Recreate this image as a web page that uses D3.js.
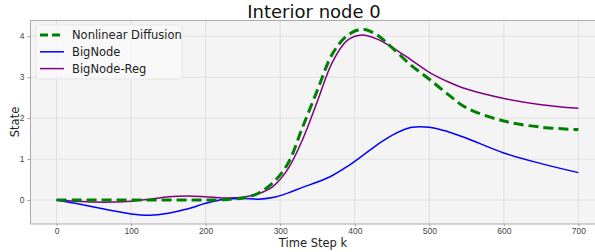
<!DOCTYPE html>
<meta charset="utf-8">
<style>
body { margin: 0; background: #fff; }
svg { font-family: "DejaVu Sans", sans-serif; display: block; }
.grid line { stroke: #dcdcdc; stroke-width: 0.8px; }
.axis text { fill: #444; font-size: 8.5px; }
.axis line { stroke: #999; }
.axis path { display: none; }
</style>
<svg width="595" height="252"></svg>
<script src="https://d3js.org/d3.v7.min.js"></script>
<script>

var steps = [0,25,50,75,100,125,150,175,200,225,250,270,290,310,330,350,370,390,410,430,450,475,500,525,550,600,650,700];

var diffusion = [0,0,0,0,0,0,0,0,0,0.01,0.05,0.16,0.42,0.88,1.78,2.69,3.57,4.02,4.17,4.03,3.72,3.3,2.95,2.58,2.25,1.93,1.78,1.72];
var bigNode = [0,-0.08,-0.17,-0.26,-0.34,-0.37,-0.32,-0.22,-0.08,0.02,0.04,0.02,0.06,0.17,0.31,0.44,0.6,0.82,1.08,1.35,1.58,1.77,1.78,1.67,1.51,1.15,0.89,0.67];
var bigNodeReg = [0,-0.03,-0.05,-0.05,-0.03,0.02,0.08,0.1,0.08,0.05,0.07,0.15,0.33,0.75,1.48,2.42,3.37,3.9,4.03,3.93,3.73,3.43,3.12,2.89,2.71,2.48,2.33,2.24];

var xTicks = [0,100,200,300,400,500,600,700];
var yTicks = [0,1,2,3,4];

var series = [
  {name: "Nonlinear Diffusion", values: diffusion, color: "green", width: 3, dash: "10,5"},
  {name: "BigNode", values: bigNode, color: "blue", width: 1.5, dash: null},
  {name: "BigNode-Reg", values: bigNodeReg, color: "purple", width: 1.5, dash: null}
];

var svg = d3.select("svg");
var pLeft = 30.5, pRight = 604.5, pTop = 20.5, pBottom = 224;

var x = d3.scaleLinear().domain([-35, 735]).range([pLeft, pRight]);
var y = d3.scaleLinear().domain([-0.585, 4.385]).range([pBottom, pTop]);

//plot background
svg.append("rect")
  .attr("x", pLeft).attr("y", pTop)
  .attr("width", pRight - pLeft).attr("height", pBottom - pTop)
  .attr("fill", "#f4f4f4");

//grid
var grid = svg.append("g").attr("class", "grid");
grid.selectAll(".gx").data(xTicks).enter().append("line")
  .attr("x1", d => x(d)).attr("x2", d => x(d))
  .attr("y1", pTop).attr("y2", pBottom);
grid.selectAll(".gy").data(yTicks).enter().append("line")
  .attr("x1", pLeft).attr("x2", pRight)
  .attr("y1", d => y(d)).attr("y2", d => y(d));

//axes
svg.append("g").attr("class", "axis")
  .attr("transform", "translate(0," + pBottom + ")")
  .call(d3.axisBottom(x).tickValues(xTicks).tickSize(2).tickPadding(1.5).tickFormat(d3.format("d")));
svg.append("g").attr("class", "axis")
  .attr("transform", "translate(" + pLeft + ",0)")
  .call(d3.axisLeft(y).tickValues(yTicks).tickSize(3).tickPadding(3).tickFormat(d3.format("d")));

//spines
svg.append("path")
  .attr("d", "M" + pLeft + "," + pTop + "V" + pBottom + "H" + pRight + "M" + pLeft + "," + pTop + "H" + pRight)
  .attr("stroke", "#aaa").attr("stroke-width", 1).attr("fill", "none");

//lines
var line = d3.line()
  .x((d, i) => x(steps[i]))
  .y(d => y(d))
  .curve(d3.curveCatmullRom.alpha(0.5));

svg.append("g").selectAll("path")
  .data(series.slice().reverse())
  .enter().append("path")
  .attr("d", d => line(d.values))
  .attr("fill", "none")
  .attr("stroke", d => d.color)
  .attr("stroke-width", d => d.width)
  .attr("stroke-dasharray", d => d.dash);

//legend
var legend = svg.append("g");
legend.append("rect")
  .attr("x", 36).attr("y", 25).attr("width", 146).attr("height", 54)
  .attr("rx", 3).attr("fill", "#f8f8f8").attr("fill-opacity", 0.85)
  .attr("stroke", "#e6e6e6");
var items = legend.selectAll(".item").data(series).enter().append("g")
  .attr("transform", (d, i) => "translate(0," + (35 + i * 16.8) + ")");
items.append("line")
  .attr("x1", 40).attr("x2", 64)
  .attr("stroke", d => d.color)
  .attr("stroke-width", d => d.width)
  .attr("stroke-dasharray", d => d.dash ? "8,4" : null);
items.append("text")
  .attr("x", 72).attr("y", 4)
  .attr("font-size", "11.5px").attr("fill", "#222")
  .text(d => d.name);

//title and labels
svg.append("text")
  .attr("x", 314).attr("y", 18)
  .attr("text-anchor", "middle")
  .attr("font-size", "18px").attr("fill", "#111")
  .text("Interior node 0");
svg.append("text")
  .attr("x", 313).attr("y", 247)
  .attr("text-anchor", "middle")
  .attr("font-size", "11.5px").attr("fill", "#222")
  .text("Time Step k");
svg.append("text")
  .attr("transform", "translate(19,122) rotate(-90)")
  .attr("text-anchor", "middle")
  .attr("font-size", "11.5px").attr("fill", "#222")
  .text("State");

</script>
